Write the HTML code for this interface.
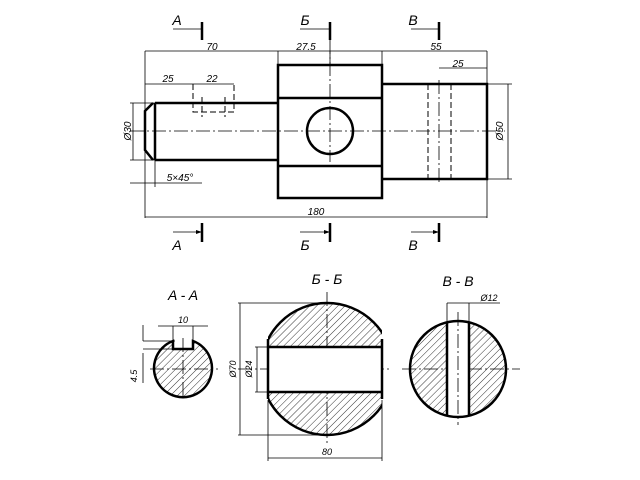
<!DOCTYPE html>
<html><head><meta charset="utf-8"><style>html,body{margin:0;padding:0;background:#fff}svg{display:block}text{font-family:"Liberation Sans",sans-serif;font-style:italic;fill:#000}</style></head><body>
<svg width="640" height="480" viewBox="0 0 640 480" xmlns="http://www.w3.org/2000/svg">
<defs>
<pattern id="h" patternUnits="userSpaceOnUse" width="5" height="5" patternTransform="rotate(45)"><line x1="0" y1="0" x2="0" y2="5" stroke="#000" stroke-width="0.8"/></pattern>
<clipPath id="cb"><rect x="268" y="290" width="114" height="160"/></clipPath>
</defs>
<g fill="none" stroke="#000">
<g stroke-width="2.5">
<path d="M155,103 H278 M155,160 H278 M153,103 L145,111 V150 L153,160 M155,103 V160"/>
<rect x="278" y="65" width="104" height="133"/>
<path d="M278,98 H382 M278,166 H382"/>
<circle cx="330" cy="131" r="23"/>
<path d="M382,84 H487 V179 H382"/>
</g>
<g stroke-width="1" stroke-dasharray="6,3">
<path d="M428,84 V179 M451,84 V179 M193,84 V112 H234 V84 M202,97 V117 M225,97 V117"/>
</g>
<g stroke-width="0.8" stroke-dasharray="14,3,2,3">
<path d="M130,131 H505 M330,40 V162 M439,80 V185"/>
<path d="M150,369 H218 M183,338 V398 M238,369 H392 M327,292 V445 M402,369 H520"/>
</g>
<g stroke-width="0.8">
<path d="M145,51 H487 M145,51 V218 M278,51 V65 M382,51 V84 M487,51 V218 M330,51 V65"/>
<path d="M439,68 H487"/>
<path d="M145,84 H234"/>
<path d="M130,103 H155 M130,160 H155 M133,103 V160"/>
<path d="M487,84 H512 M487,179 H512 M508,84 V179"/>
<path d="M130,183 H202 M155,160 V187"/>
<path d="M145,217 H487"/>
<path d="M173,29 H202 M300,29 H330 M411,29 H439"/>
<path d="M173,232 H202 M300,232 H330 M411,232 H439"/>
</g>
<g stroke-width="2.5">
<path d="M202,22 V40 M330,22 V40 M439,22 V40 M202,223 V242 M330,223 V242 M439,223 V242"/>
</g>
</g>
<g fill="#000">
<path d="M202,232 l-6,-2 v4z M330,232 l-6,-2 v4z M439,232 l-6,-2 v4z"/>
</g>
<g font-size="10" text-anchor="middle">
<text x="212" y="50">70</text><text x="306" y="50">27.5</text><text x="436" y="50">55</text>
<text x="458" y="67">25</text><text x="168" y="82">25</text><text x="212" y="82">22</text>
<text x="316" y="215">180</text><text x="180" y="181">5×45°</text>
<text transform="translate(131,131) rotate(-90)">Ø30</text>
<text transform="translate(503,131) rotate(-90)">Ø50</text>
</g>
<g font-size="14" text-anchor="middle">
<text x="177" y="25">A</text><text x="305" y="25">Б</text><text x="413" y="25">В</text>
<text x="177" y="250">A</text><text x="305" y="250">Б</text><text x="413" y="250">В</text>
<text x="183" y="300">A - A</text><text x="327" y="284">Б - Б</text><text x="458" y="286">В - В</text>
</g>
<!-- A-A -->
<path d="M173,341 A29,29 0 1 0 193,341 V349 H173 Z" fill="url(#h)" stroke="#000" stroke-width="2.5"/>
<g stroke="#000" stroke-width="0.8" fill="none">
<path d="M158,326 H208 M173,326 V341 M193,326 V341 M143,341 H175 M143,349 H173 M143,325 V341 M143,353 V383"/>
</g>
<text x="183" y="323" font-size="9" text-anchor="middle">10</text>
<text transform="translate(137,376) rotate(-90)" font-size="9" text-anchor="middle">4.5</text>
<!-- Б-Б -->
<g clip-path="url(#cb)">
<circle cx="327" cy="369" r="66" fill="url(#h)"/>
<rect x="268" y="347" width="114" height="45" fill="#fff"/>
<circle cx="327" cy="369" r="66" fill="none" stroke="#000" stroke-width="2.5"/>
</g>
<g stroke="#000" stroke-width="2.5" fill="none"><path d="M268,339 V399 M382,339 V399 M268,347 H382 M268,392 H382"/></g>
<g stroke="#000" stroke-width="0.8" fill="none">
<path d="M238,303 H327 M238,435 H327 M240,303 V435 M255,347 H268 M255,392 H268 M257,347 V392 M268,400 V461 M382,400 V461 M268,458 H382"/>
</g>
<text transform="translate(236,369) rotate(-90)" font-size="9" text-anchor="middle">Ø70</text>
<text transform="translate(252,369) rotate(-90)" font-size="9" text-anchor="middle">Ø24</text>
<text x="327" y="455" font-size="9" text-anchor="middle">80</text>
<!-- В-В -->
<circle cx="458" cy="369" r="48" fill="url(#h)"/>
<rect x="447" y="319" width="22" height="100" fill="#fff"/>
<circle cx="458" cy="369" r="48" fill="none" stroke="#000" stroke-width="2.5"/>
<g stroke="#000" stroke-width="2.5"><path d="M447,322 V415 M469,322 V415"/></g>
<g stroke="#000" stroke-width="0.8" fill="none"><path d="M447,303 V322 M469,303 V322 M447,303 H500"/></g>
<g stroke="#000" stroke-width="0.8" stroke-dasharray="14,3,2,3"><path d="M458,312 V425"/></g>
<text x="489" y="301" font-size="9" text-anchor="middle">Ø12</text>
</svg>
</body></html>
